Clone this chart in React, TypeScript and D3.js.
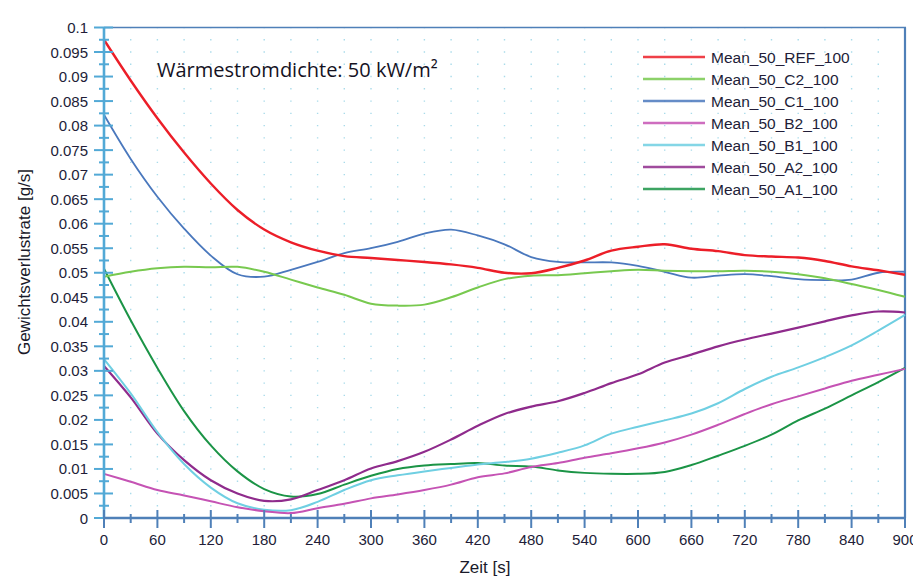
import { useEffect, useRef } from 'react';
import * as d3 from 'd3';

// time axis (s), sampled every 30 s
const times = [
  0, 30, 60, 90, 120, 150, 180, 210, 240, 270, 300, 330, 360, 390, 420, 450,
  480, 510, 540, 570, 600, 630, 660, 690, 720, 750, 780, 810, 840, 870, 900,
];

const ref100 = [
  0.0975, 0.0892, 0.0815, 0.0745, 0.0682, 0.0628, 0.0588, 0.0562, 0.0545,
  0.0534, 0.053, 0.0526, 0.0522, 0.0517, 0.051, 0.05, 0.0499, 0.051, 0.0525,
  0.0545, 0.0553, 0.0558, 0.0549, 0.0544, 0.0536, 0.0533, 0.0531, 0.0524,
  0.0513, 0.0505, 0.0496,
];
const c2100 = [
  0.0492, 0.0502, 0.0509, 0.0512, 0.0511, 0.0512, 0.0502, 0.0486, 0.047,
  0.0455, 0.0437, 0.0433, 0.0435, 0.045, 0.047, 0.0487, 0.0494, 0.0495, 0.0499,
  0.0503, 0.0506, 0.0504, 0.0503, 0.0503, 0.0504, 0.0502, 0.0497, 0.0489,
  0.0477, 0.0465, 0.0451,
];
const c1100 = [
  0.0822, 0.0732, 0.0655, 0.059, 0.0535, 0.0497, 0.0492, 0.0506, 0.0522, 0.054,
  0.055, 0.0563, 0.058, 0.0588, 0.0576, 0.0558, 0.0532, 0.0522, 0.0521, 0.0521,
  0.0514, 0.0502, 0.049, 0.0494, 0.0497, 0.0493, 0.0487, 0.0485, 0.0486, 0.05,
  0.0502,
];
const b2100 = [
  0.009, 0.0074, 0.0057, 0.0046, 0.0034, 0.0022, 0.0014, 0.001, 0.002, 0.0029,
  0.004, 0.0048, 0.0057, 0.0068, 0.0083, 0.0091, 0.0104, 0.0112, 0.0123,
  0.0132, 0.0142, 0.0154, 0.017, 0.019, 0.0212, 0.0232, 0.0248, 0.0264, 0.028,
  0.0292, 0.0304,
];
const b1100 = [
  0.0324, 0.0254, 0.0175, 0.011, 0.0062, 0.003, 0.0017, 0.0016, 0.0033, 0.0057,
  0.0077, 0.0087, 0.0095, 0.0102, 0.0109, 0.0114, 0.0121, 0.0133, 0.0148,
  0.0172, 0.0186, 0.0199, 0.0213, 0.0234, 0.0263, 0.0288, 0.0307, 0.0328,
  0.0352, 0.0382, 0.0414,
];
const a2100 = [
  0.031, 0.0246, 0.0172, 0.0118, 0.0077, 0.005, 0.0035, 0.0038, 0.0057, 0.0077,
  0.0101, 0.0116, 0.0135, 0.016, 0.0188, 0.0212, 0.0227, 0.0238, 0.0255,
  0.0275, 0.0293, 0.0317, 0.0333, 0.035, 0.0364, 0.0376, 0.0388, 0.0401,
  0.0413, 0.0421, 0.0419,
];
const a1100 = [
  0.0508, 0.0403, 0.0306, 0.0218, 0.0148, 0.0095, 0.0059, 0.0044, 0.0049,
  0.0068, 0.0086, 0.01, 0.0107, 0.011, 0.0112, 0.0107, 0.0105, 0.0097, 0.0092,
  0.009, 0.009, 0.0094, 0.0108, 0.0127, 0.0147, 0.017, 0.0199, 0.0223, 0.025,
  0.0277, 0.0306,
];

const seriesNames = [
  'Mean_50_REF_100',
  'Mean_50_C2_100',
  'Mean_50_C1_100',
  'Mean_50_B2_100',
  'Mean_50_B1_100',
  'Mean_50_A2_100',
  'Mean_50_A1_100',
];
const seriesValues = [ref100, c2100, c1100, b2100, b1100, a2100, a1100];
const seriesColors = ['#ec1e28', '#78c94f', '#4a78bd', '#c553b4', '#6fcfe2', '#8f2b8c', '#1b9446'];
const seriesWidths = [2.4, 2, 1.8, 2, 2, 2.2, 2];

const xTicks = d3.range(0, 901, 60);
const yTicks = d3.range(0, 0.1001, 0.005);

export default function App() {
  const svgRef = useRef<SVGSVGElement>(null);

  useEffect(() => {
    document.body.style.margin = '0';
    if (!svgRef.current) return;
    const svg = d3.select(svgRef.current);
    svg.selectAll('*').remove();

    const left = 104, right = 905, top = 27.5, bottom = 518;
    const font = '"Liberation Sans", Arial, sans-serif';
    const labelColor = '#221d38';

    const x = d3.scaleLinear().domain([0, 900]).range([left, right]);
    const y = d3.scaleLinear().domain([0, 0.1]).range([bottom, top]);

    // dotted grid: vertical columns every 30 s, one dot per half tick step
    const step = y(0) - y(0.0025);
    const grid = svg.append('g');
    d3.range(30, 900, 30).forEach(t => {
      grid.append('line')
        .attr('x1', x(t)).attr('x2', x(t)).attr('y1', top).attr('y2', bottom)
        .attr('stroke', '#a9dbea').attr('stroke-width', 1.4)
        .attr('stroke-dasharray', `1.4,${step - 1.4}`)
        .attr('stroke-dashoffset', 0.7);
    });

    // frame top / right
    svg.append('line')
      .attr('x1', left).attr('x2', right + 1).attr('y1', top).attr('y2', top)
      .attr('stroke', '#4f80b8').attr('stroke-width', 1.6);
    svg.append('line')
      .attr('x1', right).attr('x2', right).attr('y1', top).attr('y2', bottom)
      .attr('stroke', '#4f80b8').attr('stroke-width', 2.2);

    // series
    const line = d3.line<number>()
      .x((_, i) => x(times[i]))
      .y(d => y(d))
      .curve(d3.curveCatmullRom.alpha(0.5));

    const order = d3.range(seriesNames.length).reverse();
    order.forEach(i => {
      svg.append('path')
        .datum(seriesValues[i])
        .attr('fill', 'none')
        .attr('stroke', seriesColors[i])
        .attr('stroke-width', seriesWidths[i])
        .attr('stroke-linejoin', 'round')
        .attr('d', line);
    });

    // left axis
    const yAxis = svg.append('g');
    yAxis.append('line')
      .attr('x1', left).attr('x2', left).attr('y1', top).attr('y2', bottom)
      .attr('stroke', '#52a9d6').attr('stroke-width', 2.6);
    yTicks.forEach(v => {
      yAxis.append('line')
        .attr('x1', left - 10).attr('x2', left + 9).attr('y1', y(v)).attr('y2', y(v))
        .attr('stroke', '#52a9d6').attr('stroke-width', 2);
      yAxis.append('text')
        .attr('x', left - 16).attr('y', y(v) + 5.5)
        .attr('text-anchor', 'end')
        .attr('font-family', font).attr('font-size', 15).attr('fill', labelColor)
        .text(d3.format('~g')(+v.toFixed(3)));
    });
    d3.range(0.0025, 0.1, 0.005).forEach(v => {
      yAxis.append('line')
        .attr('x1', left - 5).attr('x2', left + 5).attr('y1', y(v)).attr('y2', y(v))
        .attr('stroke', '#52a9d6').attr('stroke-width', 2);
    });

    // bottom axis
    const xAxis = svg.append('g');
    xAxis.append('line')
      .attr('x1', left - 1).attr('x2', right + 1).attr('y1', bottom).attr('y2', bottom)
      .attr('stroke', '#4f80b8').attr('stroke-width', 2.6);
    xTicks.forEach(t => {
      xAxis.append('line')
        .attr('x1', x(t)).attr('x2', x(t)).attr('y1', bottom - 8).attr('y2', bottom + 10)
        .attr('stroke', '#4f80b8').attr('stroke-width', 2);
      xAxis.append('text')
        .attr('x', x(t)).attr('y', bottom + 27)
        .attr('text-anchor', 'middle')
        .attr('font-family', font).attr('font-size', 15).attr('fill', labelColor)
        .text(String(t));
    });
    d3.range(30, 900, 60).forEach(t => {
      xAxis.append('line')
        .attr('x1', x(t)).attr('x2', x(t)).attr('y1', bottom - 4).attr('y2', bottom + 5)
        .attr('stroke', '#4f80b8').attr('stroke-width', 2);
    });

    // axis titles
    svg.append('text')
      .attr('x', 485).attr('y', 573)
      .attr('text-anchor', 'middle')
      .attr('font-family', font).attr('font-size', 17).attr('fill', '#1a1a2a')
      .text('Zeit [s]');
    svg.append('text')
      .attr('transform', 'translate(30,262) rotate(-90)')
      .attr('text-anchor', 'middle')
      .attr('font-family', font).attr('font-size', 17).attr('fill', '#1a1a2a')
      .text('Gewichtsverlustrate [g/s]');

    // annotation
    svg.append('text')
      .attr('x', 157).attr('y', 77)
      .attr('font-family', '"Open Sans", sans-serif').attr('font-size', 20)
      .attr('fill', '#15121f')
      .text('Wärmestromdichte: 50 kW/m²');

    // legend
    const legend = svg.append('g').attr('transform', 'translate(643,57)');
    seriesNames.forEach((name, i) => {
      legend.append('line')
        .attr('x1', 0).attr('x2', 62).attr('y1', i * 22).attr('y2', i * 22)
        .attr('stroke', seriesColors[i]).attr('stroke-width', 2.6).attr('stroke-opacity', 0.85);
      legend.append('text')
        .attr('x', 68).attr('y', i * 22 + 5.5)
        .attr('font-family', font).attr('font-size', 15.5).attr('fill', labelColor)
        .text(name);
    });
  }, []);

  return (
    <svg
      ref={svgRef}
      width={913}
      height={576}
      style={{ position: 'absolute', left: 0, top: 0, background: '#fff' }}
    />
  );
}
